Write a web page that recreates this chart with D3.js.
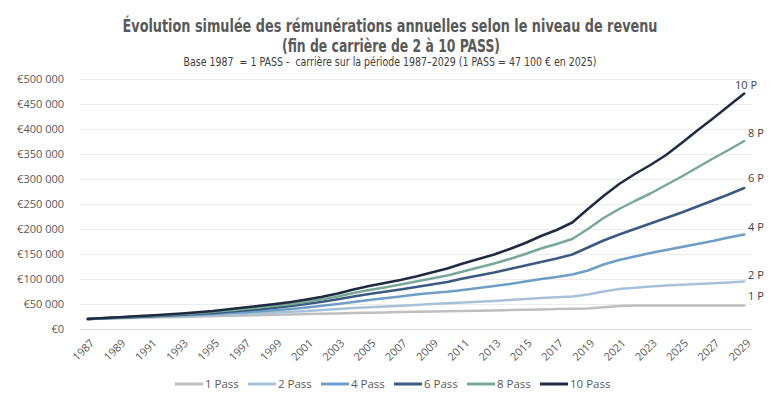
<!DOCTYPE html>
<html>
<head>
<meta charset="utf-8">
<script src="https://cdn.jsdelivr.net/npm/d3@7"></script>
<style>
  html, body { margin: 0; padding: 0; background: #fff; }
  svg { display: block; }
</style>
</head>
<body>
<svg id="chart" width="780" height="401"></svg>
<script>
// ---- data (values in euros) ----
const years = [1987,1988,1989,1990,1991,1992,1993,1994,1995,1996,1997,1998,1999,2000,2001,2002,2003,2004,2005,2006,2007,2008,2009,2010,2011,2012,2013,2014,2015,2016,2017,2018,2019,2020,2021,2022,2023,2024,2025,2026,2027,2028,2029];
const seriesNames = ["1 Pass","2 Pass","4 Pass","6 Pass","8 Pass","10 Pass"];
const endLabels = ["1 P","2 P","4 P","6 P","8 P","10 P"];
const pass1  = [20,20.7,21.4,22.1,22.8,23.5,24.2,24.9,25.6,26.3,27,27.7,28.4,29.1,29.8,30.5,31.2,31.9,32.6,33.2,33.8,34.4,35,35.5,36,36.6,37.2,38,38.6,39.2,39.8,40.3,40.8,43.5,46,47,47.1,47.1,47.1,47.1,47.1,47.1,47.1];
const pass2  = [20,21,22,23,24,25,26,27,28,29,30,31.5,33,34.5,36,38,40,42,43.5,45,46.5,48,50,51.5,53,54.5,56,58,60,62,63.5,65,69,75,80,82.5,85,87,88.5,90,91.5,93,95];
const pass4  = [20,21.2,22.4,23.6,24.8,26,27.3,28.6,30,31.8,33.6,35.5,37.5,40,43,46.5,50,54,58,61.5,65,69,72,74.5,78,82,86,90,95,100,104,109,117,129,138,145,152,158,164,170,176,183,189];
const pass6  = [20,21.4,22.8,24.2,25.6,27,28.6,30.3,32,34.3,36.8,39.5,42.5,46,50,54.5,59.5,65,70,74.5,79,84,89,94,101,107,113,120,127,134,141,149,163,177,189,200,211,222,233,245,257,269,282];
const pass8  = [20,21.6,23.2,24.8,26.4,28,30,32,34.5,37,40,43,46.5,50,54.5,59.5,65,72,78,83,89,95,101,107,115,123,131,140,150,161,170,180,200,222,240,256,271,288,305,323,341,358,376];
const pass10 = [20,21.8,23.6,25.4,27.2,29,31.2,33.5,36,39.5,43,46.5,50,54,59,64.5,71,79,86,92,98,105,113,121,131,140,149,160,172,186,198,213,240,266,290,310,328,348,372,397,421,446,471];
const seriesValues = [pass1, pass2, pass4, pass6, pass8, pass10].map(a => a.map(v => v * 1000));
const yTicks = [0,50000,100000,150000,200000,250000,300000,350000,400000,450000,500000];
const colors = ["#bfbfbf","#a7c2d8","#6e9dc6","#3b5a7f","#78a897","#1f2b41"];

const titleLine1 = "Évolution simulée des rémunérations annuelles selon le niveau de revenu";
const titleLine2 = "(fin de carrière de 2 à 10 PASS)";
const subtitle = "Base 1987  = 1 PASS -  carrière sur la période 1987–2029 (1 PASS = 47 100 € en 2025)";

// ---- layout ----
const svg = d3.select("#chart");
const plotLeft = 80, plotRight = 752, plotTop = 79, plotBottom = 329;
const narrow = "'Liberation Sans Narrow', 'DejaVu Sans Condensed', 'Roboto Condensed', 'Liberation Sans', sans-serif";
const bodyFont = "'Open Sans', 'Noto Sans', 'DejaVu Sans', sans-serif";

const x = d3.scalePoint().domain(years).range([plotLeft, plotRight]).padding(0.5);
const y = d3.scaleLinear().domain([0, 500000]).range([plotBottom, plotTop]);

// titles
function fitText(sel, w) {
  const len = sel.node().getComputedTextLength();
  if (len > 0) sel.attr("textLength", w).attr("lengthAdjust", "spacingAndGlyphs");
}
const t1 = svg.append("text").attr("x", 390).attr("y", 32).attr("text-anchor", "middle")
  .style("font-family", narrow).style("font-weight", "bold").style("font-size", "17px")
  .style("fill", "#595959").text(titleLine1);
fitText(t1, 535);
const t2 = svg.append("text").attr("x", 391).attr("y", 52).attr("text-anchor", "middle")
  .style("font-family", narrow).style("font-weight", "bold").style("font-size", "17px")
  .style("fill", "#595959").text(titleLine2);
fitText(t2, 218);
const t3 = svg.append("text").attr("x", 390).attr("y", 66).attr("text-anchor", "middle")
  .attr("xml:space", "preserve").style("white-space", "pre")
  .style("font-family", narrow).style("font-size", "12px")
  .style("fill", "#404040").text(subtitle);
fitText(t3, 413);

// gridlines
svg.append("g").selectAll("line").data(yTicks).join("line")
  .attr("x1", plotLeft).attr("x2", plotRight)
  .attr("y1", d => Math.round(y(d)) + 0.5).attr("y2", d => Math.round(y(d)) + 0.5)
  .attr("stroke", d => d === 0 ? "#d9d9d9" : "#ececec").attr("stroke-width", 1);

// y axis labels
const fmt = d => "€" + d3.format(",")(d).replace(/,/g, "\u00a0");
const yAxis = d3.axisLeft(y).tickValues(yTicks).tickSize(0).tickPadding(0).tickFormat(fmt);
const gy = svg.append("g").attr("transform", `translate(${64},0)`).call(yAxis);
gy.select(".domain").remove();
gy.selectAll("text").style("font-family", bodyFont).style("font-size", "11px").style("fill", "#595959");

// x axis labels
const xAxis = d3.axisBottom(x).tickValues(years.filter((d, i) => i % 2 === 0)).tickSize(0).tickPadding(0);
const gx = svg.append("g").attr("transform", `translate(0,${plotBottom})`).call(xAxis);
gx.select(".domain").remove();
gx.selectAll("text")
  .attr("text-anchor", "end").attr("dy", "0.35em")
  .attr("transform", "translate(4,12) rotate(-45)")
  .style("font-family", bodyFont).style("font-size", "11px").style("fill", "#595959");

// lines
const line = d3.line().x((d, i) => x(years[i])).y(d => y(d));
svg.append("g").selectAll("path").data(seriesValues).join("path")
  .attr("d", d => line(d)).attr("fill", "none")
  .attr("stroke", (d, i) => colors[i]).attr("stroke-width", 2.5)
  .attr("stroke-linejoin", "round").attr("stroke-linecap", "round");

// end labels
const labelPos = [[748, 296], [748, 275], [748, 227], [748, 178], [748, 133], [735, 85]];
svg.append("g").selectAll("text").data(endLabels).join("text")
  .attr("x", (d, i) => labelPos[i][0]).attr("y", (d, i) => labelPos[i][1]).attr("dy", "0.35em")
  .style("font-family", bodyFont).style("font-size", "11px").style("fill", "#404040")
  .text(d => d);

// legend
const legendX = [175, 248, 321, 394, 467, 540];
const lg = svg.append("g");
seriesNames.forEach((name, i) => {
  lg.append("line").attr("x1", legendX[i]).attr("x2", legendX[i] + 28)
    .attr("y1", 384).attr("y2", 384).attr("stroke", colors[i]).attr("stroke-width", 3);
  lg.append("text").attr("x", legendX[i] + 30).attr("y", 384).attr("dy", "0.35em")
    .style("font-family", bodyFont).style("font-size", "11.5px").style("fill", "#595959").text(name);
});
</script>
</body>
</html>
